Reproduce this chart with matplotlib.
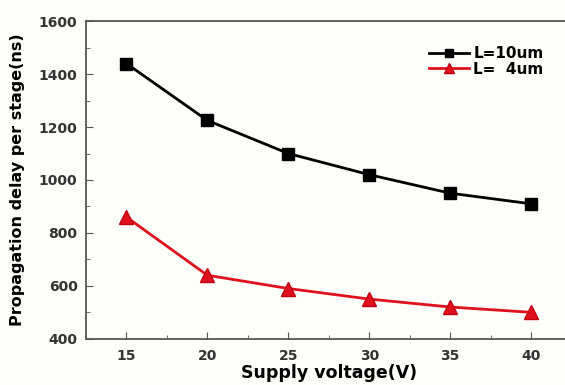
import matplotlib
matplotlib.use("Agg")
import matplotlib.pyplot as plt
from matplotlib.ticker import MultipleLocator

plt.rcParams['font.family'] = ['DejaVu Sans']
plt.rcParams['font.weight'] = 'bold'

voltage = [15, 20, 25, 30, 35, 40]
delay_10um = [1440, 1225, 1100, 1020, 950, 910]
delay_4um = [860, 640, 590, 550, 520, 500]

fig = plt.figure(figsize=(5.65, 3.85), dpi=100)
fig.patch.set_facecolor('#fdfdf9')
ax = fig.add_axes([0.152, 0.12, 0.86, 0.825])
ax.set_facecolor('#fdfdf9')

ax.plot(voltage, delay_10um, color='black', marker='s', markersize=8, linewidth=2,
        label='L=10um')
ax.plot(voltage, delay_4um, color='#e0101c', marker='^', markersize=10, linewidth=2,
        markeredgecolor='#c00010', label='L=  4um')

ax.set_xlim(12.5, 42.5)
ax.set_ylim(400, 1600)
ax.xaxis.set_major_locator(MultipleLocator(5))
ax.xaxis.set_minor_locator(MultipleLocator(2.5))
ax.yaxis.set_major_locator(MultipleLocator(200))
ax.yaxis.set_minor_locator(MultipleLocator(100))
ax.tick_params(which='both', direction='in', labelsize=10, color='#555555')
ax.tick_params(which='major', length=5)
ax.tick_params(which='minor', length=3)
ax.tick_params(axis='y', pad=6)
ax.tick_params(axis='x', pad=7)
for lab in ax.get_xticklabels() + ax.get_yticklabels():
    lab.set_fontweight('bold')
    lab.set_color('#333333')

for sp in ax.spines.values():
    sp.set_color('#555555')
    sp.set_linewidth(1.3)

ax.set_xlabel('Supply voltage(V)', fontsize=12.5, fontweight='bold', labelpad=1)
ax.set_ylabel('Propagation delay per stage(ns)', fontsize=11.5, fontweight='bold', labelpad=10)

leg = ax.legend(loc='upper right', bbox_to_anchor=(0.97, 0.965), frameon=False,
                handlelength=2.6, handletextpad=0.3, labelspacing=0.05, markerscale=0.75,
                prop={'weight': 'bold', 'size': 11})

fig.savefig('out.png', dpi=100, facecolor=fig.get_facecolor())
